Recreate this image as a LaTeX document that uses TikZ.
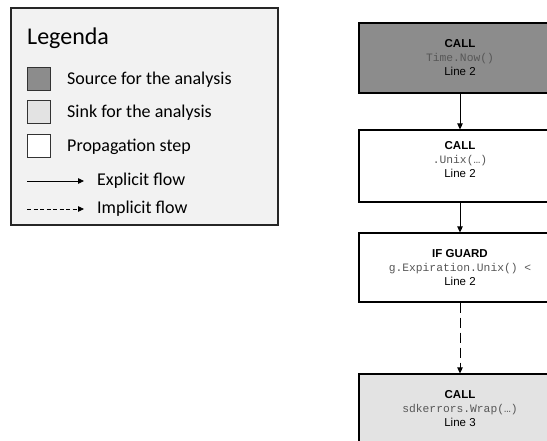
\documentclass[tikz,border=0pt]{standalone}
\usepackage{fontspec}
\setmainfont{Liberation Sans}
\setmonofont{Liberation Mono}
\newfontfamily\legendfont{Carlito}
\usetikzlibrary{positioning,arrows.meta}
\definecolor{srcgray}{HTML}{8C8C8C}
\definecolor{sinkgray}{HTML}{E3E3E3}
\definecolor{legendbg}{HTML}{F2F2F2}
\definecolor{codegray}{HTML}{575757}

\begin{document}
\begin{tikzpicture}[
  x=1pt,y=-1pt,
  legendbox/.style={rectangle,draw=black!85,line width=1.4pt,fill=legendbg,
              minimum width=267pt,minimum height=217pt,inner sep=0pt},
  swatch/.style={rectangle,draw=black!80,line width=1pt,
              minimum width=23pt,minimum height=23pt,inner sep=0pt},
  legtext/.style={anchor=west,inner sep=0pt,font=\legendfont\fontsize{18}{20}\selectfont},
  stepbox/.style={rectangle,draw=black,line width=1.2pt,fill=white,
              minimum width=202pt,align=center,inner sep=2pt,
              font=\fontsize{11.5}{14}\selectfont},
  srcbox/.style={stepbox,fill=srcgray},
  sinkbox/.style={stepbox,fill=sinkgray},
  arr/.style={-{Triangle[length=6pt,width=5.5pt]},line width=1pt,black},
  implarr/.style={arr,dash pattern=on 10pt off 5pt},
]
\useasboundingbox (0,0) rectangle (547,441);
\clip (0,0) rectangle (547,441);

% legend
\node[legendbox] (legend) at (144.5,116.5) {};
\node[anchor=west,inner sep=0pt,font=\legendfont\fontsize{24}{26}\selectfont]
   (legtitle) at (27,38) {Legenda};
\node[swatch,fill=srcgray] (swsrc) at (38.5,79.5) {};
\node[swatch,fill=sinkgray] (swsink) at (38.5,112.5) {};
\node[swatch,fill=white] (swstep) at (38.5,146.5) {};
\node[legtext] (txsrc) at (67,79.5) {Source for the analysis};
\node[legtext] (txsink) at (67,112.5) {Sink for the analysis};
\node[legtext] (txstep) at (67,146.5) {Propagation step};
\coordinate (ex0) at (27,181);
\coordinate (ex1) at (84,181);
\coordinate (im0) at (27,209);
\coordinate (im1) at (84,209);
\node[legtext] (txexpl) at (97,181) {Explicit flow};
\node[legtext] (tximpl) at (97,209) {Implicit flow};
\draw[arr,line width=0.8pt] (ex0) -- (ex1);
\draw[arr,line width=0.8pt,dash pattern=on 4pt off 2.5pt] (im0) -- (im1);

% flow
\node[srcbox,minimum height=70pt] (now) at (460,58)
   {\textbf{CALL}\\{\ttfamily\fontsize{11.3}{14}\selectfont\color{codegray}Time.Now()}\\Line 2};
\node[stepbox,minimum height=72pt] (unix) at (460,166)
   {\textbf{CALL}\\{\ttfamily\fontsize{11.3}{14}\selectfont\color{codegray}.Unix(…)}\\Line 2\\~};
\node[stepbox,minimum height=69pt] (guard) at (460,267.5)
   {\textbf{IF GUARD}\\{\ttfamily\fontsize{11.3}{14}\selectfont\color{codegray}g.Expiration.Unix() <}\\Line 2};
\node[sinkbox,minimum height=70pt] (wrap) at (460,409)
   {\textbf{CALL}\\{\ttfamily\fontsize{11.3}{14}\selectfont\color{codegray}sdkerrors.Wrap(…)}\\Line 3};

\draw[arr] (now) -- (unix);
\draw[arr] (unix) -- (guard);
\draw[implarr] (guard) -- (wrap);
\end{tikzpicture}
\end{document}
